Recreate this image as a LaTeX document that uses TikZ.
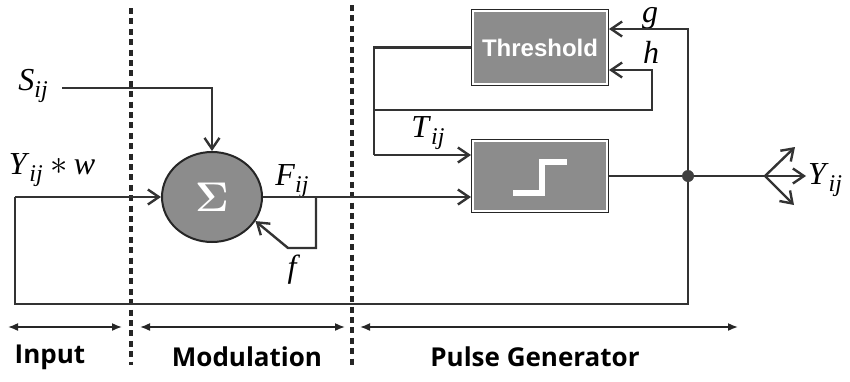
\documentclass[tikz,border=0pt]{standalone}
\usepackage{fontspec}
\setmainfont{Liberation Serif}
\setsansfont{Open Sans}
\newfontfamily\boxfont{Liberation Sans}
\usetikzlibrary{arrows.meta,shapes.geometric,calc}

% variable with an italic subscript, Times-like
\newcommand\lab[2]{\textit{#1}\raisebox{-0.5ex}{\fontsize{12}{12}\selectfont\itshape #2}}

\begin{document}
\begin{tikzpicture}[x=0.5pt,y=-0.5pt,
  wire/.style={draw=black!80,line width=1.2pt},
  arr/.style={wire,-{Straight Barb[length=5.5pt,width=7.5pt,line width=1.2pt]}},
  block/.style={draw=black!85,line width=1pt,fill=black!45,minimum width=68pt,inner sep=0pt},
  lbl/.style={font=\fontsize{16}{18}\selectfont,inner sep=1pt},
  sect/.style={font=\sffamily\bfseries\fontsize{13}{15}\selectfont},
  divider/.style={draw=black!85,line width=1.6pt,dash pattern=on 3pt off 2.2pt},
  span/.style={draw=black!85,line width=0.8pt,{Latex[length=5pt,width=4pt]}-{Latex[length=5pt,width=4pt]}}
]
\useasboundingbox (0,0) rectangle (850,381);

% section dividers
\draw[divider] (131,8) -- (131,365);
\draw[divider] (352,5) -- (352,365);

% blocks
\node[ellipse,draw=black!85,line width=1pt,fill=black!45,minimum width=50pt,minimum height=45pt,inner sep=0pt,
      font=\fontsize{20}{20}\selectfont\boldmath,text=white] (sum) at (212,197) {$\Sigma$};
\node[block,minimum height=37.5pt,text=white,font=\boxfont\bfseries\fontsize{12}{14}\selectfont] (thr) at (540,47.5) {Threshold};
\node[block,minimum height=36pt] (step) at (540,176) {};
\draw[white,line width=0.6pt] ($(thr.south west)+(2,-2)$) rectangle ($(thr.north east)+(-2,2)$);
\draw[white,line width=0.6pt] ($(step.south west)+(2,-2)$) rectangle ($(step.north east)+(-2,2)$);
\draw[white,line width=3pt] (513,193) -- (542,193) -- (542,162) -- (567,162);

% labels
\node[lbl] (s) at (33,86) {\lab{S}{ij}};
\node[lbl] (yw) at (52,170) {\lab{Y}{ij} $\ast\,$\textit{w}};
\node[lbl] (fij) at (292,181) {\lab{F}{ij}};
\node[lbl] (f) at (294,270) {\textit{f}};
\node[lbl] (tij) at (428,133) {\lab{T}{ij}};
\node[lbl,inner sep=0pt] (g) at (650,18) {\textit{g}};
\node[lbl] (h) at (651,52) {\textit{h}};
\node[lbl] (yout) at (825,180) {\lab{Y}{ij}};

% bend points
\coordinate (sin) at (62,88);
\coordinate (yin) at (15,197);
\coordinate (jn) at (688,176);
\coordinate (fa) at (316,197);
\coordinate (tl) at (374,47.5);
\coordinate (hl) at (374,110);
\coordinate (tb) at (374,155);
\coordinate (fan) at (765,176);

% modulation wiring
\draw[arr] (sin) -| (sum.north);
\draw[arr] (yin) -- (sum.west);
\draw[arr] (sum.east) -- (sum.east -| step.west);
\draw[arr] (fa) -- (316,248) -- (288,248) -- (sum.-29);

% threshold wiring
\draw[wire] (thr.west) -- (tl) -- (tb);
\draw[arr] (tb) -- (tb -| step.west);
\draw[arr] (hl) -- (652,110) -- (652,70) -- ($(thr.east)+(0,22.5)$);
\draw[arr] (jn) -- (688,29) -- ($(thr.east)+(0,-18.5)$);

% output and feedback loop
\draw[wire] (step.east |- jn) -- (fan);
\draw[wire] (yin) -- (15,304) -- (688,304) -- (jn);
\fill[black!75] (jn) circle (3pt);
\draw[arr] (fan) -- (795,147);
\draw[arr] (fan) -- (806,176);
\draw[arr] (fan) -- (794,205);

% section spans
\draw[span] (8,327) -- (122,327);
\draw[span] (140,327) -- (345,327);
\draw[span] (360,327) -- (738,327);
\node[sect] (in) at (50,357) {Input};
\node[sect] (mod) at (247,357) {Modulation};
\node[sect] (pg) at (535,357) {Pulse Generator};
\end{tikzpicture}
\end{document}
